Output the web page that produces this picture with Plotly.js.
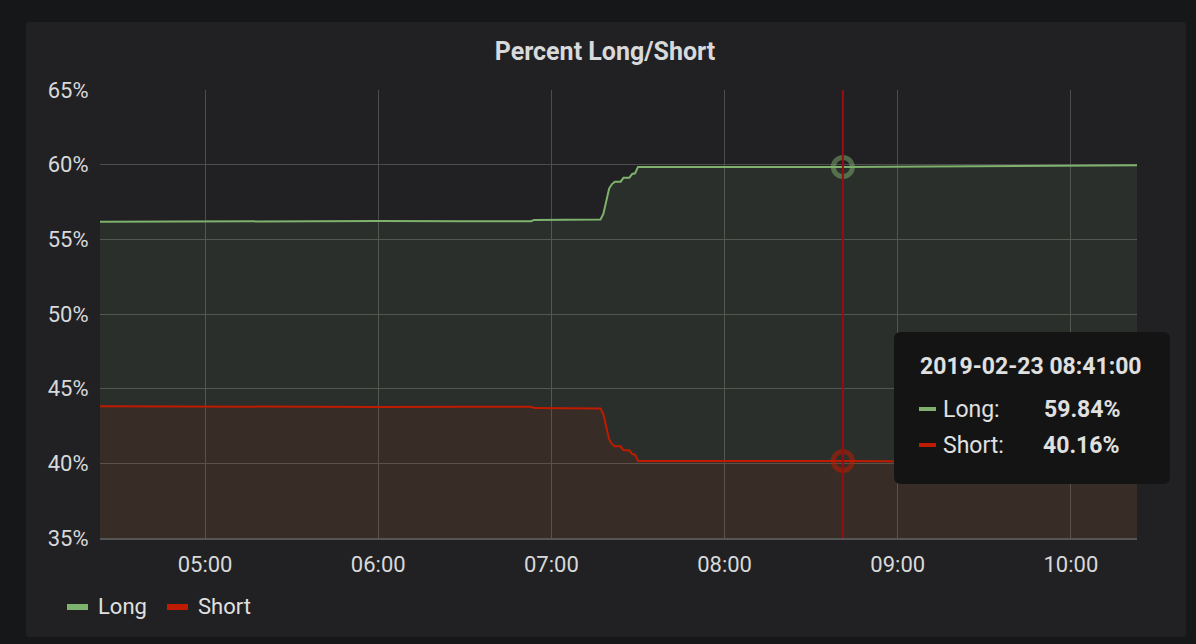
<!DOCTYPE html>
<html>
<head>
<meta charset="utf-8">
<script src="https://cdn.plot.ly/plotly-3.0.1.min.js"></script>
<style>
  html, body { margin: 0; padding: 0; background: #161719; width: 1196px; height: 644px; overflow: hidden; }
  #panel { position: absolute; left: 26px; top: 22px; width: 1160px; height: 615px; background: #212124; border-radius: 3px; }
  #plot { position: absolute; left: 0; top: 0; width: 1196px; height: 644px; }
</style>
</head>
<body>
<div id="panel"></div>
<div id="plot"></div>
<script>
// values
const times = [
  '2019-02-23 04:23', '2019-02-23 04:40', '2019-02-23 05:00', '2019-02-23 05:30',
  '2019-02-23 06:00', '2019-02-23 06:30', '2019-02-23 06:53', '2019-02-23 06:54',
  '2019-02-23 07:10', '2019-02-23 07:17', '2019-02-23 07:18', '2019-02-23 07:19',
  '2019-02-23 07:20', '2019-02-23 07:21', '2019-02-23 07:22', '2019-02-23 07:24',
  '2019-02-23 07:25', '2019-02-23 07:27', '2019-02-23 07:28', '2019-02-23 07:29',
  '2019-02-23 07:30', '2019-02-23 07:45', '2019-02-23 08:00', '2019-02-23 08:20',
  '2019-02-23 08:41', '2019-02-23 09:00', '2019-02-23 09:30', '2019-02-23 09:45',
  '2019-02-23 10:00', '2019-02-23 10:23'
];
const longPct = [
  56.18, 56.19, 56.22, 56.24,
  56.22, 56.21, 56.21, 56.30,
  56.30, 56.33, 56.70, 57.60,
  58.40, 58.70, 58.86, 58.86,
  59.13, 59.13, 59.38, 59.42,
  59.85, 59.85, 59.83, 59.84,
  59.84, 59.86, 59.90, 59.93,
  59.94, 59.96
];
const shortPct = [
  43.82, 43.81, 43.78, 43.76,
  43.78, 43.79, 43.79, 43.70,
  43.70, 43.67, 43.30, 42.40,
  41.60, 41.30, 41.14, 41.14,
  40.87, 40.87, 40.62, 40.58,
  40.15, 40.15, 40.17, 40.16,
  40.16, 40.14, 40.10, 40.07,
  40.06, 40.04
];
const seriesNames = ['Long', 'Short'];
const seriesColors = ['#7eb26d', '#bf1b00'];
const hoverTime = '2019-02-23 08:41';
const hoverLabel = '2019-02-23 08:41:00';
const yTicks = [35, 40, 45, 50, 55, 60, 65];

const W = 1196, H = 644;
const L = 100, R = 1137, T = 90, B = 538;
const px = x => (x - L) / (R - L);
const py = y => (B - y) / (B - T);

const hi = times.indexOf(hoverTime);
const textColor = '#d8d9da';
const font = 'Roboto, "Open Sans", sans-serif';

const data = [
  {
    x: times, y: longPct, name: seriesNames[0], type: 'scatter', mode: 'lines',
    line: { color: seriesColors[0], width: 2 },
    fill: 'tozeroy', fillcolor: 'rgba(126,178,109,0.1)'
  },
  {
    x: times, y: shortPct, name: seriesNames[1], type: 'scatter', mode: 'lines',
    line: { color: seriesColors[1], width: 2 },
    fill: 'tozeroy', fillcolor: 'rgba(191,27,0,0.1)'
  },
  {
    x: [times[hi], times[hi]], y: [longPct[hi], shortPct[hi]], type: 'scatter', mode: 'markers',
    marker: { symbol: 'circle-open', size: 19, color: ['rgba(126,178,109,0.5)', 'rgba(191,27,0,0.55)'],
      line: { width: 5 } },
    hoverinfo: 'skip'
  }
];

// rounded box path in paper coords from pixel corners
function roundBox(x0, y0, x1, y1, r) {
  const p = (x, y) => px(x) + ',' + py(y);
  return 'M' + p(x0 + r, y0) + ' L' + p(x1 - r, y0) + ' Q' + p(x1, y0) + ' ' + p(x1, y0 + r) +
    ' L' + p(x1, y1 - r) + ' Q' + p(x1, y1) + ' ' + p(x1 - r, y1) +
    ' L' + p(x0 + r, y1) + ' Q' + p(x0, y1) + ' ' + p(x0, y1 - r) +
    ' L' + p(x0, y0 + r) + ' Q' + p(x0, y0) + ' ' + p(x0 + r, y0) + ' Z';
}

const shapes = [
  { type: 'line', xref: 'x', yref: 'paper', x0: times[hi], x1: times[hi], y0: 0, y1: 1,
    line: { color: '#990c10', width: 2 } },
  { type: 'path', xref: 'paper', yref: 'paper', path: roundBox(894, 332, 1170, 484, 7),
    fillcolor: '#141414', line: { width: 0 } },
  // tooltip swatches
  { type: 'line', xref: 'paper', yref: 'paper', x0: px(919), x1: px(936), y0: py(409), y1: py(409),
    line: { color: seriesColors[0], width: 4 } },
  { type: 'line', xref: 'paper', yref: 'paper', x0: px(919), x1: px(936), y0: py(445), y1: py(445),
    line: { color: seriesColors[1], width: 4 } },
  // legend swatches
  { type: 'line', xref: 'paper', yref: 'paper', x0: px(67), x1: px(88), y0: py(607), y1: py(607),
    line: { color: seriesColors[0], width: 6 } },
  { type: 'line', xref: 'paper', yref: 'paper', x0: px(167), x1: px(188), y0: py(607), y1: py(607),
    line: { color: seriesColors[1], width: 6 } }
];

const ann = (x, y, text, size, anchor, bold) => ({
  xref: 'paper', yref: 'paper', x: px(x), y: py(y), text: bold ? '<b>' + text + '</b>' : text,
  showarrow: false, xanchor: anchor, yanchor: 'middle',
  font: { family: font, size: size, color: '#e0e0e0' }
});

const annotations = [
  ann(918, 366, hoverLabel, 23, 'left', true),
  ann(941, 409, seriesNames[0] + ':', 23, 'left', false),
  ann(941, 445, seriesNames[1] + ':', 23, 'left', false),
  ann(1042, 409, longPct[hi].toFixed(2) + '%', 23, 'left', true),
  ann(1041, 445, shortPct[hi].toFixed(2) + '%', 23, 'left', true),
  ann(96, 606, seriesNames[0], 22, 'left', false),
  ann(196, 606, seriesNames[1], 22, 'left', false)
];

const layout = {
  width: W, height: H,
  margin: { l: L, r: W - R, t: T, b: H - B },
  paper_bgcolor: 'rgba(0,0,0,0)',
  plot_bgcolor: 'rgba(0,0,0,0)',
  font: { family: font, color: textColor, size: 22 },
  showlegend: false,
  title: {
    text: '<b>Percent Long/Short</b>', xref: 'container', yref: 'container',
    x: 605 / W, y: 1 - 51 / H, xanchor: 'center', yanchor: 'middle',
    font: { family: font, size: 25, color: textColor }
  },
  xaxis: {
    type: 'date',
    range: ['2019-02-23 04:23:35', '2019-02-23 10:22:55'],
    tick0: '2019-02-23 05:00', dtick: 3600000, tickformat: '%H:%M',
    showgrid: true, gridcolor: '#4d4d4d', gridwidth: 1,
    showline: true, linecolor: '#555555', linewidth: 2,
    ticks: 'outside', ticklen: 6, tickcolor: 'rgba(0,0,0,0)',
    tickfont: { family: font, size: 22, color: textColor },
    zeroline: false, fixedrange: true
  },
  yaxis: {
    range: [35, 65], tickvals: yTicks, ticktext: yTicks.map(v => v + '%'),
    showgrid: true, gridcolor: '#4d4d4d', gridwidth: 1,
    showline: false, zeroline: false,
    ticks: 'outside', ticklen: 6, tickcolor: 'rgba(0,0,0,0)',
    tickfont: { family: font, size: 22, color: textColor },
    fixedrange: true
  },
  shapes: shapes,
  annotations: annotations
};

Plotly.newPlot('plot', data, layout, { displayModeBar: false, staticPlot: true });
</script>
</body>
</html>
